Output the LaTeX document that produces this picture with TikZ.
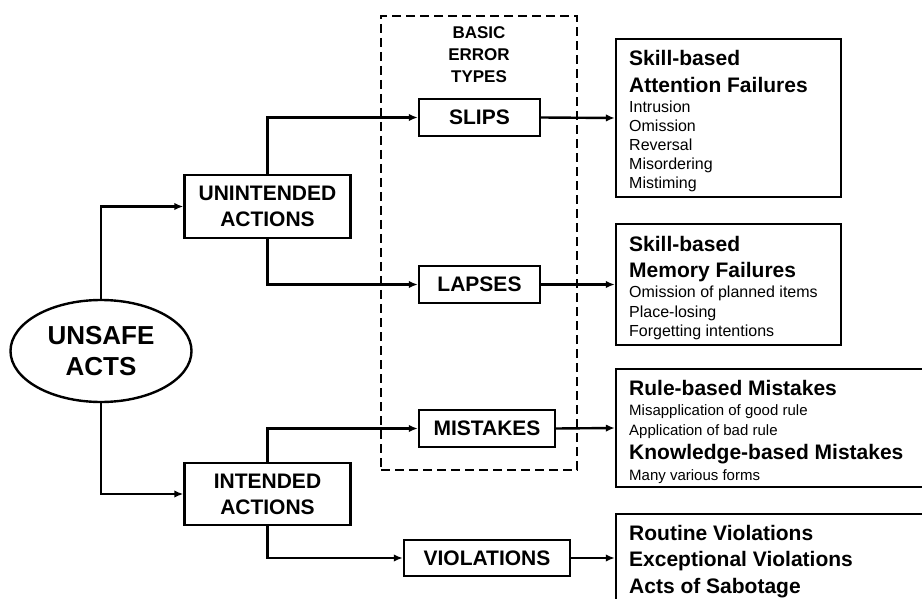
\documentclass[tikz,border=0pt]{standalone}
\usepackage{fontspec}
\setmainfont{Liberation Sans}
\usetikzlibrary{arrows.meta,shapes.geometric}
\begin{document}
\begin{tikzpicture}[x=1pt,y=-1pt,
  line width=2.4pt,
  box/.style={draw, rectangle, inner sep=0pt, align=center, font=\fontsize{21}{26}\selectfont\bfseries},
  arr/.style={-{Latex[length=9pt,width=7.5pt]}},
  head/.style={anchor=base west, inner sep=0pt, font=\fontsize{21}{26}\selectfont\bfseries},
  item/.style={anchor=base west, inner sep=0pt, font=\fontsize{16}{19}\selectfont},
  itemsm/.style={anchor=base west, inner sep=0pt, font=\fontsize{15}{19}\selectfont},
  rbox/.style={draw, rectangle, inner sep=0pt}
]
\clip (0,0) rectangle (922,599);
\fill[white] (0,0) rectangle (922,599);

% dashed group
\node[draw, dash pattern=on 9pt off 5pt, minimum width=196pt, minimum height=454pt, inner sep=0pt] (dbox) at (479,243) {};
\node[align=center, inner sep=0pt, font=\fontsize{17}{22}\selectfont\bfseries] (bet) at (479,54.5) {BASIC\\ERROR\\TYPES};

% root
\node[ellipse, draw, minimum width=181pt, minimum height=102pt, inner sep=0pt, align=center, font=\fontsize{26}{31}\selectfont\bfseries] (ua) at (101,351) {UNSAFE\\ACTS};

% second level
\node[box, minimum width=166pt, minimum height=63pt] (unint) at (267.5,206.5) {UNINTENDED\\ACTIONS};
\node[box, minimum width=166pt, minimum height=62pt] (intd) at (267.5,494) {INTENDED\\ACTIONS};

% error types
\node[box, minimum width=121pt, minimum height=37pt] (slips) at (479.5,117.5) {SLIPS};
\node[box, minimum width=121pt, minimum height=37pt] (lapses) at (479.5,284.5) {LAPSES};
\node[box, minimum width=136pt, minimum height=37pt] (mistakes) at (487,428.5) {MISTAKES};
\node[box, minimum width=166pt, minimum height=36pt] (viol) at (487,558) {VIOLATIONS};

% right boxes
\node[rbox, minimum width=225pt, minimum height=158pt] (b1) at (728.5,118) {};
\node[rbox, minimum width=225pt, minimum height=121pt] (b2) at (728.5,284.5) {};
\node[rbox, minimum width=344pt, minimum height=118pt] (b3) at (788,428) {};
\node[rbox, minimum width=344pt, minimum height=88pt] (b4) at (788,558) {};

% texts box 1
\node[head] (b1a) at (628,65.5) {Skill-based};
\node[head] (b1b) at (628,92.5) {Attention Failures};
\node[item] (b1c) at (628,112.5) {Intrusion};
\node[item] (b1d) at (628,131.5) {Omission};
\node[item] (b1e) at (628,150.5) {Reversal};
\node[item] (b1f) at (628,169.5) {Misordering};
\node[item] (b1g) at (628,188.5) {Mistiming};

% texts box 2
\node[head] (b2a) at (628,251.5) {Skill-based};
\node[head] (b2b) at (628,277.5) {Memory Failures};
\node[item] (b2c) at (628,297.5) {Omission of planned items};
\node[item] (b2d) at (628,317) {Place-losing};
\node[item] (b2e) at (628,336.5) {Forgetting intentions};

% texts box 3
\node[head] (b3a) at (628,395.5) {Rule-based Mistakes};
\node[itemsm] (b3b) at (628,415.4) {Misapplication of good rule};
\node[itemsm] (b3c) at (628,435.4) {Application of bad rule};
\node[head] (b3d) at (628,459.5) {Knowledge-based Mistakes};
\node[itemsm] (b3e) at (628,480.4) {Many various forms};

% texts box 4
\node[head] (b4a) at (628,540.5) {Routine Violations};
\node[head] (b4b) at (628,566.5) {Exceptional Violations};
\node[head] (b4c) at (628,593.5) {Acts of Sabotage};

% connectors
\draw[arr] (ua.north) |- (unint.west);
\draw[arr] (ua.south) |- (intd.west);
\draw[arr] (unint.north) |- (slips.west);
\draw[arr] (unint.south) |- (lapses.west);
\draw[arr] (intd.north) |- (mistakes.west);
\draw[arr] (intd.south) |- (viol.west);
\draw[arr] (slips.east) -- (b1.west);
\draw[arr] (lapses.east) -- (b2.west);
\draw[arr] (mistakes.east) -- (b3.west);
\draw[arr] (viol.east) -- (b4.west);
\end{tikzpicture}
\end{document}
